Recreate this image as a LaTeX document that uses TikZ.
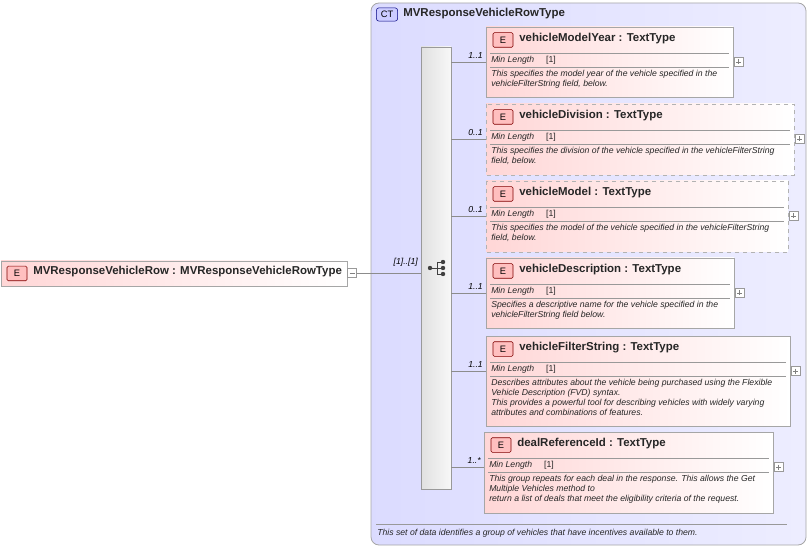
\documentclass[tikz,border=0pt]{standalone}
\usepackage{fontspec}
\setmainfont{Liberation Sans}
\begin{document}
\begin{tikzpicture}[x=0.75pt,y=-0.75pt,
  elbox/.style={draw=black!35,left color=red!16,right color=white,line width=0.7pt},
  ebadge/.style={draw=red!50!black,fill=red!25,rounded corners=1pt,line width=0.5pt},
  plusbox/.style={draw=black!40,fill=white,line width=0.4pt},
  conn/.style={draw=black!45,line width=0.5pt},
  title/.style={anchor=west,inner sep=0,font=\fontsize{8.6}{9}\selectfont\bfseries,text=black!85},
  small/.style={anchor=north west,inner sep=0,font=\fontsize{6.5}{7.5}\selectfont\itshape,text=black!85,align=left},
  card/.style={anchor=east,inner sep=0,font=\fontsize{6.5}{7}\selectfont\itshape}]
\useasboundingbox (0,0) rectangle (812,548);
% container
\draw[draw=black!35,left color=blue!14,right color=blue!7,rounded corners=6pt,line width=0.6pt] (371,3) rectangle (806,545);
\node[draw=blue!50!black,fill=blue!20,rounded corners=2pt,inner sep=0,minimum width=16pt,minimum height=10pt,font=\fontsize{7}{8}\selectfont] (ct) at (387,14.5) {CT};
\node[title] (cttitle) at (403,14) {MVResponseVehicleRowType};
\draw[black!40] (376,524) -- (787,524);
\node[small] (ctdesc) at (377,529) {This set of data identifies a group of vehicles that have incentives available to them.};
% left element
\draw[elbox] (1,261) rectangle (347,286);
\node[ebadge,inner sep=0,minimum width=15pt,minimum height=11pt,font=\fontsize{7}{8}\selectfont] at (17,273.5) {E};
\node[title] (root) at (33,272) {MVResponseVehicleRow : MVResponseVehicleRowType};
\node[plusbox,inner sep=0,minimum size=7pt] (minus) at (352,273) {};
\draw[black!50,line width=0.4pt] (349.5,273) -- (354.5,273);
% sequence
\draw[draw=black!40,left color=black!12,right color=black!3,line width=0.6pt] (421,47) rectangle (451,489);
\node[inner sep=0,minimum width=22.5pt,minimum height=331pt] (seq) at (436,268) {};
\draw[conn] (minus.east) -- (seq.west|-minus.east);
\node[card] at (418,262) {[1]..[1]};
% sequence icon
\begin{scope}[black!75,line width=0.7pt]
\draw (429,268) -- (437,268);
\draw (437,262) -- (437,274);
\draw (437,262) -- (442,262) (437,274) -- (442,274) (437,268) -- (442,268);
\fill (430,268) circle (2.2);
\fill (443,262) circle (2.2) (443,268) circle (2.2) (443,274) circle (2.2);
\end{scope}
% children
\newcommand{\childbox}[9]{%
  \draw[elbox,#6] (#2,#3) rectangle (#4,#5);
  \node[inner sep=0,minimum size=0] (#1) at (#2,{#3+35}) {};
  \node[ebadge,inner sep=0,minimum width=15pt,minimum height=11pt,font=\fontsize{7}{8}\selectfont] at ({#2+17},{#3+13}) {E};
  \node[title] at ({#2+33},{#3+12}) {#7};
  \draw[black!40] ({#2+4},{#3+26}) -- ({#4-4},{#3+26});
  \node[small,anchor=west] at ({#2+5},{#3+33.5}) {Min Length\hspace{9pt}\upshape[1]};
  \draw[black!40] ({#2+4},{#3+40}) -- ({#4-4},{#3+40});
  \node[small] at ({#2+5},{#3+43}) {#8};
  \node[plusbox,inner sep=0,minimum size=6.5pt] (#1p) at ({#4+5.5},{#3+35}) {};
  \draw[black!50,line width=0.4pt] ({#4+3},{#3+35}) -- ({#4+8},{#3+35}) ({#4+5.5},{#3+32.5}) -- ({#4+5.5},{#3+37.5});
  \draw[conn] (seq.east|-#1) -- (#1);
  \node[card] at ({#2-3},{#3+29}) {#9};
}
\childbox{c1}{486}{27}{733}{97}{}{vehicleModelYear : TextType}{This specifies the model year of the vehicle specified in the\\vehicleFilterString field, below.}{1..1}
\childbox{c2}{486}{104}{794}{175}{dashed,draw=black!30}{vehicleDivision : TextType}{This specifies the division of the vehicle specified in the vehicleFilterString\\field, below.}{0..1}
\childbox{c3}{486}{181}{788}{252}{dashed,draw=black!30}{vehicleModel : TextType}{This specifies the model of the vehicle specified in the vehicleFilterString\\field, below.}{0..1}
\childbox{c4}{486}{258}{734}{328}{}{vehicleDescription : TextType}{Specifies a descriptive name for the vehicle specified in the\\vehicleFilterString field below.}{1..1}
\childbox{c5}{486}{336}{790}{426}{}{vehicleFilterString : TextType}{Describes attributes about the vehicle being purchased using the Flexible\\Vehicle Description (FVD) syntax.\\This provides a powerful tool for describing vehicles with widely varying\\attributes and combinations of features.}{1..1}
\childbox{c6}{484}{432}{773}{513}{}{dealReferenceId : TextType}{This group repeats for each deal in the response. This allows the Get\\Multiple Vehicles method to\\return a list of deals that meet the eligibility criteria of the request.}{1..*}
\end{tikzpicture}
\end{document}
